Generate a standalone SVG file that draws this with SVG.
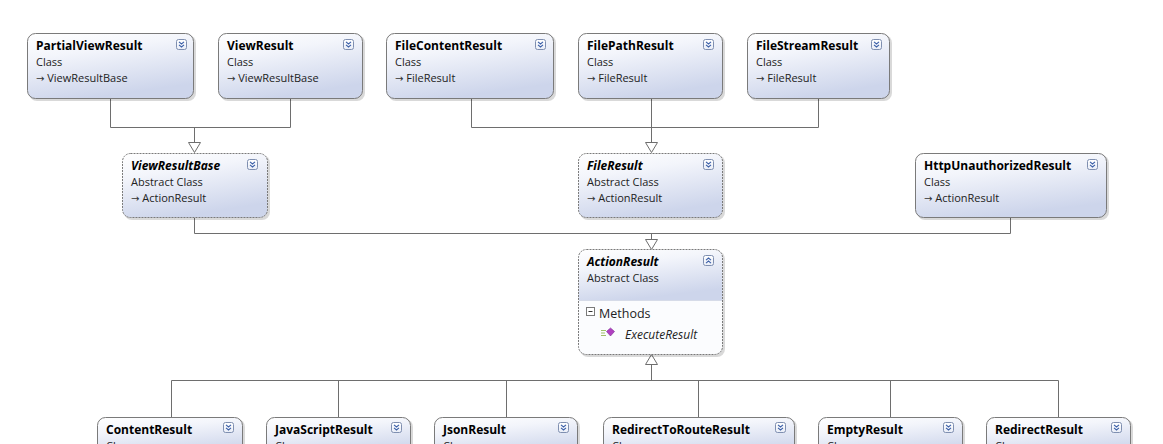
<svg xmlns="http://www.w3.org/2000/svg" width="1163" height="444" viewBox="0 0 1163 444">
<defs>
<linearGradient id="g" x1="0" y1="0" x2="0.35" y2="1">
<stop offset="0" stop-color="#ffffff"/>
<stop offset="0.35" stop-color="#f3f5fb"/>
<stop offset="1" stop-color="#cdd5eb"/>
</linearGradient>
<linearGradient id="gb" x1="0" y1="0" x2="0" y2="1">
<stop offset="0" stop-color="#ffffff"/>
<stop offset="1" stop-color="#e9edf7"/>
</linearGradient>
<g id="exp">
<rect x="0.5" y="0.5" width="10" height="10" rx="2" fill="url(#gb)" stroke="#7f8fb0"/>
<path d="M3 2.8 L5.5 5 L8 2.8 M3 5.8 L5.5 8 L8 5.8" fill="none" stroke="#3b5fa8" stroke-width="1.1"/>
</g>
<g id="col">
<rect x="0.5" y="0.5" width="10" height="10" rx="2" fill="url(#gb)" stroke="#7f8fb0"/>
<path d="M3 5.2 L5.5 3 L8 5.2 M3 8.2 L5.5 6 L8 8.2" fill="none" stroke="#3b5fa8" stroke-width="1.1"/>
</g>
</defs>
<style>
.shadow{fill:#000;opacity:0.15}
.box{fill:url(#g);stroke:#7a7a7a;stroke-width:1}
.abs{fill:url(#g);stroke:#7a7a7a;stroke-width:1;stroke-dasharray:2,1}
.t{font-family:"Open Sans","Noto Sans",sans-serif;font-size:12px;font-weight:bold;fill:#000}
.ti{font-family:"Open Sans","Noto Sans",sans-serif;font-size:12px;font-weight:bold;font-style:italic;fill:#000}
.s{font-family:"Open Sans","Noto Sans",sans-serif;font-size:11px;fill:#222}
.ar{font-family:"DejaVu Sans",sans-serif;font-size:10px;fill:#333}
.m{font-family:"Open Sans","Noto Sans",sans-serif;font-size:12.5px;fill:#222}
.mi{font-family:"Open Sans","Noto Sans",sans-serif;font-size:12px;font-style:italic;fill:#222}
.c{fill:none;stroke:#6e6e6e;stroke-width:1}
.a{fill:#fff;stroke:#6e6e6e;stroke-width:1}
</style>
<rect width="1163" height="444" fill="#fff"/>

<g id="connectors">
<path class="c" d="M110.5 99 V127.5 H290.5 V99 M194.5 127.5 V142"/>
<path class="a" d="M188.5 142.5 H200.5 L194.5 152.5 Z"/>
<path class="c" d="M471.5 99 V127.5 H818.5 V99 M651.5 99 V142"/>
<path class="a" d="M645.5 142.5 H657.5 L651.5 152.5 Z"/>
<path class="c" d="M194.5 218 V233.5 H1010.5 V218 M651.5 233.5 V239"/>
<path class="a" d="M645.5 239.5 H657.5 L651.5 249.5 Z"/>
<path class="a" d="M645.5 364.5 H657.5 L651.5 354.5 Z"/>
<path class="c" d="M651.5 365 V380.5 M171.5 417 V380.5 H1058.5 V417 M338.5 380.5 V417 M506.5 380.5 V417 M698.5 380.5 V417 M890.5 380.5 V417"/>
</g>

<g id="PartialViewResult">
<rect class="shadow" x="29" y="35" width="167" height="66" rx="8"/>
<rect class="box" x="27.5" y="33.5" width="166" height="65" rx="8"/>
<text class="t" x="36" y="50">PartialViewResult</text>
<text class="s" x="36" y="66">Class</text>
<text class="s" x="36" y="82"><tspan class="ar">→</tspan> ViewResultBase</text>
<use href="#exp" x="176" y="39"/>
</g>
<g id="ViewResult">
<rect class="shadow" x="220" y="35" width="145" height="66" rx="8"/>
<rect class="box" x="218.5" y="33.5" width="144" height="65" rx="8"/>
<text class="t" x="227" y="50">ViewResult</text>
<text class="s" x="227" y="66">Class</text>
<text class="s" x="227" y="82"><tspan class="ar">→</tspan> ViewResultBase</text>
<use href="#exp" x="343" y="39"/>
</g>
<g id="FileContentResult">
<rect class="shadow" x="388" y="35" width="168" height="66" rx="8"/>
<rect class="box" x="386.5" y="33.5" width="167" height="65" rx="8"/>
<text class="t" x="395" y="50">FileContentResult</text>
<text class="s" x="395" y="66">Class</text>
<text class="s" x="395" y="82"><tspan class="ar">→</tspan> FileResult</text>
<use href="#exp" x="535" y="39"/>
</g>
<g id="FilePathResult">
<rect class="shadow" x="580" y="35" width="145" height="66" rx="8"/>
<rect class="box" x="578.5" y="33.5" width="144" height="65" rx="8"/>
<text class="t" x="587" y="50">FilePathResult</text>
<text class="s" x="587" y="66">Class</text>
<text class="s" x="587" y="82"><tspan class="ar">→</tspan> FileResult</text>
<use href="#exp" x="703" y="39"/>
</g>
<g id="FileStreamResult">
<rect class="shadow" x="749" y="35" width="143" height="66" rx="8"/>
<rect class="box" x="747.5" y="33.5" width="142" height="65" rx="8"/>
<text class="t" x="756" y="50">FileStreamResult</text>
<text class="s" x="756" y="66">Class</text>
<text class="s" x="756" y="82"><tspan class="ar">→</tspan> FileResult</text>
<use href="#exp" x="871" y="39"/>
</g>

<g id="ViewResultBase">
<rect class="shadow" x="124" y="155" width="146" height="65" rx="8"/>
<rect class="abs" x="122.5" y="153.5" width="145" height="64" rx="8"/>
<text class="ti" x="131" y="170">ViewResultBase</text>
<text class="s" x="131" y="186">Abstract Class</text>
<text class="s" x="131" y="202"><tspan class="ar">→</tspan> ActionResult</text>
<use href="#exp" x="247" y="159"/>
</g>
<g id="FileResult">
<rect class="shadow" x="580" y="155" width="145" height="65" rx="8"/>
<rect class="abs" x="578.5" y="153.5" width="144" height="64" rx="8"/>
<text class="ti" x="587" y="170">FileResult</text>
<text class="s" x="587" y="186">Abstract Class</text>
<text class="s" x="587" y="202"><tspan class="ar">→</tspan> ActionResult</text>
<use href="#exp" x="703" y="159"/>
</g>
<g id="HttpUnauthorizedResult">
<rect class="shadow" x="917" y="155" width="192" height="65" rx="8"/>
<rect class="box" x="915.5" y="153.5" width="191" height="64" rx="8"/>
<text class="t" x="924" y="170">HttpUnauthorizedResult</text>
<text class="s" x="924" y="186">Class</text>
<text class="s" x="924" y="202"><tspan class="ar">→</tspan> ActionResult</text>
<use href="#exp" x="1087" y="159"/>
</g>

<g id="ActionResult">
<rect class="shadow" x="580" y="251" width="145" height="106" rx="8"/>
<rect x="578.5" y="249.5" width="144" height="105" rx="8" fill="#fbfcfe"/>
<path d="M578.5 300 V257.5 Q578.5 249.5 586.5 249.5 H714.5 Q722.5 249.5 722.5 257.5 V300 Z" fill="url(#g)"/>
<line x1="579" y1="300.5" x2="722" y2="300.5" stroke="#d6dbe8"/>
<rect x="578.5" y="249.5" width="144" height="105" rx="8" fill="none" stroke="#7a7a7a" stroke-dasharray="2,1"/>
<text class="ti" x="587" y="266">ActionResult</text>
<text class="s" x="587" y="282">Abstract Class</text>
<use href="#col" x="703" y="255"/>
<rect x="586.5" y="307.5" width="8" height="8" fill="#fff" stroke="#7a7a7a"/>
<line x1="588.5" y1="311.5" x2="592.5" y2="311.5" stroke="#333"/>
<text class="m" x="599" y="318">Methods</text>
<path d="M601 330.5 H606 M601 333 H605 M601 335.5 H606" stroke="#9fbf6a" stroke-width="1"/>
<path d="M610.5 328 L614.5 331.5 L610.5 336 L606.5 331.5 Z" fill="#b040c0" stroke="#7a2a90" stroke-width="0.6"/>
<text class="mi" x="625" y="339">ExecuteResult</text>
</g>

<g id="ContentResult">
<rect class="shadow" x="99" y="419" width="146" height="40" rx="8"/>
<rect class="box" x="97.5" y="417.5" width="145" height="40" rx="8"/>
<text class="t" x="106" y="434">ContentResult</text>
<text class="s" x="106" y="450">Class</text>
<use href="#exp" x="223" y="422"/>
</g>
<g id="JavaScriptResult">
<rect class="shadow" x="268" y="419" width="145" height="40" rx="8"/>
<rect class="box" x="266.5" y="417.5" width="144" height="40" rx="8"/>
<text class="t" x="275" y="434">JavaScriptResult</text>
<text class="s" x="275" y="450">Class</text>
<use href="#exp" x="391" y="422"/>
</g>
<g id="JsonResult">
<rect class="shadow" x="436" y="419" width="144" height="40" rx="8"/>
<rect class="box" x="434.5" y="417.5" width="143" height="40" rx="8"/>
<text class="t" x="443" y="434">JsonResult</text>
<text class="s" x="443" y="450">Class</text>
<use href="#exp" x="558" y="422"/>
</g>
<g id="RedirectToRouteResult">
<rect class="shadow" x="605" y="419" width="192" height="40" rx="8"/>
<rect class="box" x="603.5" y="417.5" width="191" height="40" rx="8"/>
<text class="t" x="612" y="434">RedirectToRouteResult</text>
<text class="s" x="612" y="450">Class</text>
<use href="#exp" x="775" y="422"/>
</g>
<g id="EmptyResult">
<rect class="shadow" x="820" y="419" width="145" height="40" rx="8"/>
<rect class="box" x="818.5" y="417.5" width="144" height="40" rx="8"/>
<text class="t" x="827" y="434">EmptyResult</text>
<text class="s" x="827" y="450">Class</text>
<use href="#exp" x="943" y="422"/>
</g>
<g id="RedirectResult">
<rect class="shadow" x="988" y="419" width="145" height="40" rx="8"/>
<rect class="box" x="986.5" y="417.5" width="144" height="40" rx="8"/>
<text class="t" x="995" y="434">RedirectResult</text>
<text class="s" x="995" y="450">Class</text>
<use href="#exp" x="1111" y="422"/>
</g>
</svg>
